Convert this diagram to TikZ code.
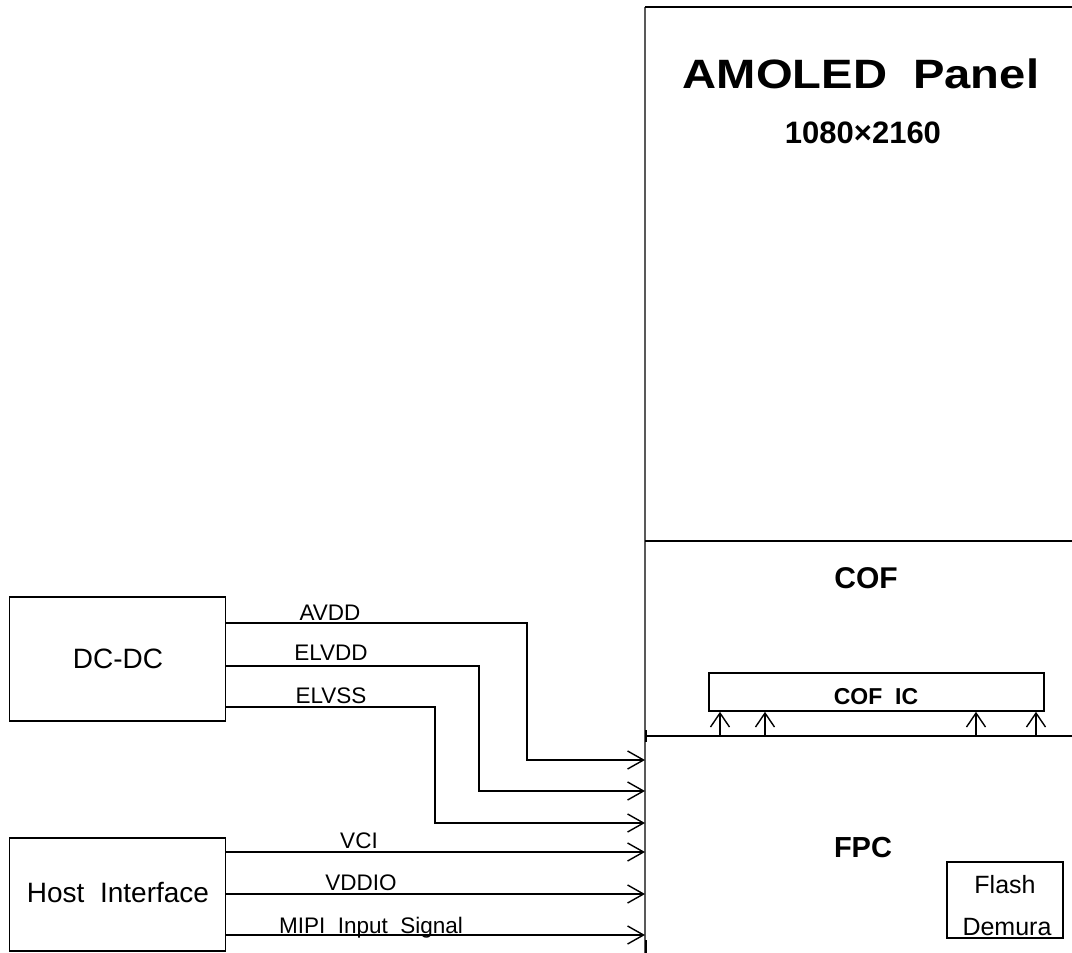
\documentclass[tikz,border=0pt]{standalone}
\usepackage{fontspec}
\setmainfont{Liberation Sans}
\usetikzlibrary{arrows.meta}
\newcommand{\fsz}[1]{\fontsize{#1}{#1}\selectfont}
\tikzset{
  x=1pt, y=-1pt,
  wire/.style={line width=1.4pt},
  sig/.style={line width=1.4pt, -{Straight Barb[length=16pt,width=18pt,line width=1.4pt]}},
  upsig/.style={line width=1.4pt, -{Straight Barb[length=14pt,width=19pt,line width=1.4pt]}},
  blk/.style={draw, line width=1.6pt, inner sep=0pt},
  lbl/.style={inner sep=0pt, anchor=base},
}
\begin{document}
\begin{tikzpicture}
\useasboundingbox (0,0) rectangle (1072,953);
% panel outline
\draw[line width=1.2pt, black!65] (645,7) -- (645,953);
\draw[line width=1.6pt] (645,7) -- (1072,7);
\draw[line width=1.6pt] (645,541) -- (1072,541);
\draw[line width=1.6pt] (646,736) -- (1072,736);
\draw[line width=1.4pt] (646,730) -- (646,742);
\draw[line width=1.4pt] (646,940) -- (646,953);

% panel labels
\node[lbl] (amoled) at (861,88) {\fsz{41}\bfseries\scalebox{1.15}[1]{AMOLED~~Panel}};
\node[lbl] (res) at (863,143) {\fsz{31}\bfseries 1080×2160};
\node[lbl] (cof) at (866,588) {\fsz{30}\bfseries COF};
\node[lbl] (fpc) at (863,857) {\fsz{29}\bfseries FPC};

% COF IC
\node[blk, minimum width=335pt, minimum height=38pt] (cofic) at (876.5,692) {};
\node[lbl] (coficl) at (876,704) {\fsz{23}\bfseries COF~~IC};
\foreach \xx/\nm in {720/a,765/b,976/c,1036/d}{
  \coordinate (fp\nm) at (\xx,736);
  \draw[upsig] (fp\nm) -- (fp\nm |- cofic.south);
}

% Flash Demura
\node[blk, minimum width=116pt, minimum height=76pt] (flash) at (1005,900) {};
\node[lbl] (flashl) at (1005,893) {\fsz{25}Flash};
\node[lbl] (demural) at (1007,935) {\fsz{25}Demura};

% DC-DC
\node[blk, minimum width=216pt, minimum height=124pt] (dcdc) at (117.5,659) {};
\node[lbl] (dcdcl) at (118,668) {\fsz{28}DC-DC};

% Host Interface
\node[blk, minimum width=216pt, minimum height=113pt] (host) at (117.5,894.5) {};
\node[lbl] (hostl) at (118,902) {\fsz{28}Host~~Interface};

% panel input coordinates
\coordinate (inA) at (645,760);
\coordinate (inB) at (645,791);
\coordinate (inC) at (645,823);
\coordinate (inD) at (645,852);
\coordinate (inE) at (645,894);
\coordinate (inF) at (645,935);

% DC-DC outputs
\coordinate (oA) at (dcdc.east |- 0,623);
\coordinate (oB) at (dcdc.east |- 0,666);
\coordinate (oC) at (dcdc.east |- 0,707);
\draw[sig] (oA) -- (527,623) -- (527,760) -- (inA);
\draw[sig] (oB) -- (479,666) -- (479,791) -- (inB);
\draw[sig] (oC) -- (435,707) -- (435,823) -- (inC);
\node[lbl] (lA) at (330,620) {\fsz{22.5}AVDD};
\node[lbl] (lB) at (331,660) {\fsz{22.5}ELVDD};
\node[lbl] (lC) at (331,703) {\fsz{22.5}ELVSS};

% Host outputs
\draw[sig] (host.east |- inD) -- (inD);
\draw[sig] (host.east |- inE) -- (inE);
\draw[sig] (host.east |- inF) -- (inF);
\node[lbl] (lD) at (359,848) {\fsz{22.5}VCI};
\node[lbl] (lE) at (361,890) {\fsz{22.5}VDDIO};
\node[lbl] (lF) at (371,933) {\fsz{22.5}MIPI~~Input~~Signal};
\end{tikzpicture}
\end{document}
